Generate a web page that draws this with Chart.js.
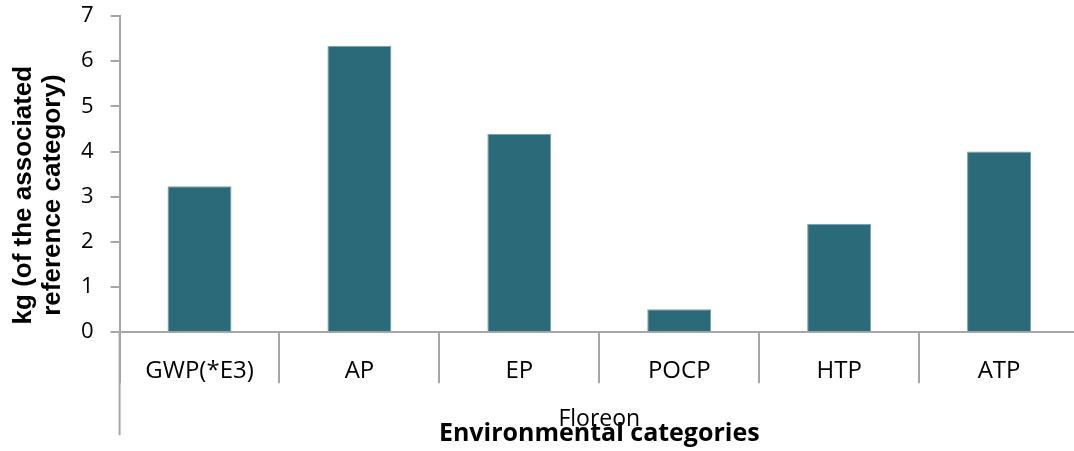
<!DOCTYPE html>
<html>
<head>
<meta charset="utf-8">
<script src="https://cdn.jsdelivr.net/npm/chart.js@4.4.1/dist/chart.umd.min.js"></script>
<style>
    html, body { margin: 0; padding: 0; background: #fff; overflow: hidden; }
    #wrap { width: 1090px; height: 451px; }
</style>
</head>
<body>
<div id="wrap"><canvas id="lcaChart" width="1090" height="451"></canvas></div>
<script>
const categories = ['GWP(*E3)', 'AP', 'EP', 'POCP', 'HTP', 'ATP'];
const floreonValues = [3.23, 6.34, 4.39, 0.51, 2.40, 4.00];
const groupLabel = 'Floreon';
const yTitleLines = ['kg (of the associated', 'reference category)'];
const xTitle = 'Environmental categories';
const yMin = 0;
const yMax = 7;
const yStep = 1;

const axisGrey = '#a6a6a6';
const barColor = '#2a6a79';

// extra decorations: rotated y title, group row under the categories
const groupAxisPlugin = {
    id: 'groupAxis',
    afterDraw(chart) {
        const ctx = chart.ctx;
        const area = chart.chartArea;
        const x = chart.scales.x;

        ctx.save();
        // left border continues down past the category row
        ctx.strokeStyle = axisGrey;
        ctx.lineWidth = 2;
        ctx.beginPath();
        ctx.moveTo(area.left, area.bottom);
        ctx.lineTo(area.left, area.bottom + 103);
        ctx.stroke();

        // group name centred under all categories
        ctx.fillStyle = '#000';
        ctx.font = '23px "Open Sans"';
        ctx.textAlign = 'center';
        ctx.textBaseline = 'middle';
        ctx.fillText(groupLabel, (x.left + x.right) / 2, area.bottom + 87);

        // y axis title, two bold lines rotated
        const cy = (area.top + area.bottom) / 2 + 21;
        ctx.translate(24, cy);
        ctx.rotate(-Math.PI / 2);
        ctx.font = 'bold 26px "Liberation Sans"';
        ctx.textBaseline = 'middle';
        yTitleLines.forEach((line, i) => {
            ctx.fillText(line, 0, i * 29);
        });
        ctx.restore();
    }
};

new Chart(document.getElementById('lcaChart'), {
    type: 'bar',
    data: {
        labels: categories,
        datasets: [{
            label: groupLabel,
            data: floreonValues,
            backgroundColor: barColor,
            borderColor: '#7aa3ad',
            borderWidth: 1,
            categoryPercentage: 1,
            barPercentage: 0.4
        }]
    },
    options: {
        responsive: false,
        animation: false,
        layout: {
            padding: { left: 64, right: 11, top: 0, bottom: 2 }
        },
        plugins: {
            legend: { display: false },
            tooltip: { enabled: false }
        },
        scales: {
            x: {
                grid: {
                    offset: true,
                    drawOnChartArea: false,
                    tickLength: 51,
                    color: axisGrey,
                    lineWidth: 2
                },
                border: { color: axisGrey, width: 2 },
                ticks: {
                    color: '#000',
                    font: { family: 'Open Sans', size: 24 },
                    padding: -26,
                    maxRotation: 0,
                    autoSkip: false
                },
                title: {
                    display: true,
                    text: xTitle,
                    color: '#000',
                    font: { family: 'Open Sans', size: 25, weight: 'bold' },
                    padding: { top: 59, bottom: 0 }
                }
            },
            y: {
                min: yMin,
                max: yMax,
                // keep the plot top close to the "7" label
                afterFit(scale) {
                    scale.paddingTop = 16;
                },
                grid: {
                    drawOnChartArea: false,
                    tickLength: 9,
                    color: axisGrey,
                    lineWidth: 2
                },
                border: { color: axisGrey, width: 2 },
                ticks: {
                    stepSize: yStep,
                    color: '#000',
                    font: { family: 'Open Sans', size: 22 },
                    padding: 17
                }
            }
        }
    },
    plugins: [groupAxisPlugin]
});
</script>
</body>
</html>
